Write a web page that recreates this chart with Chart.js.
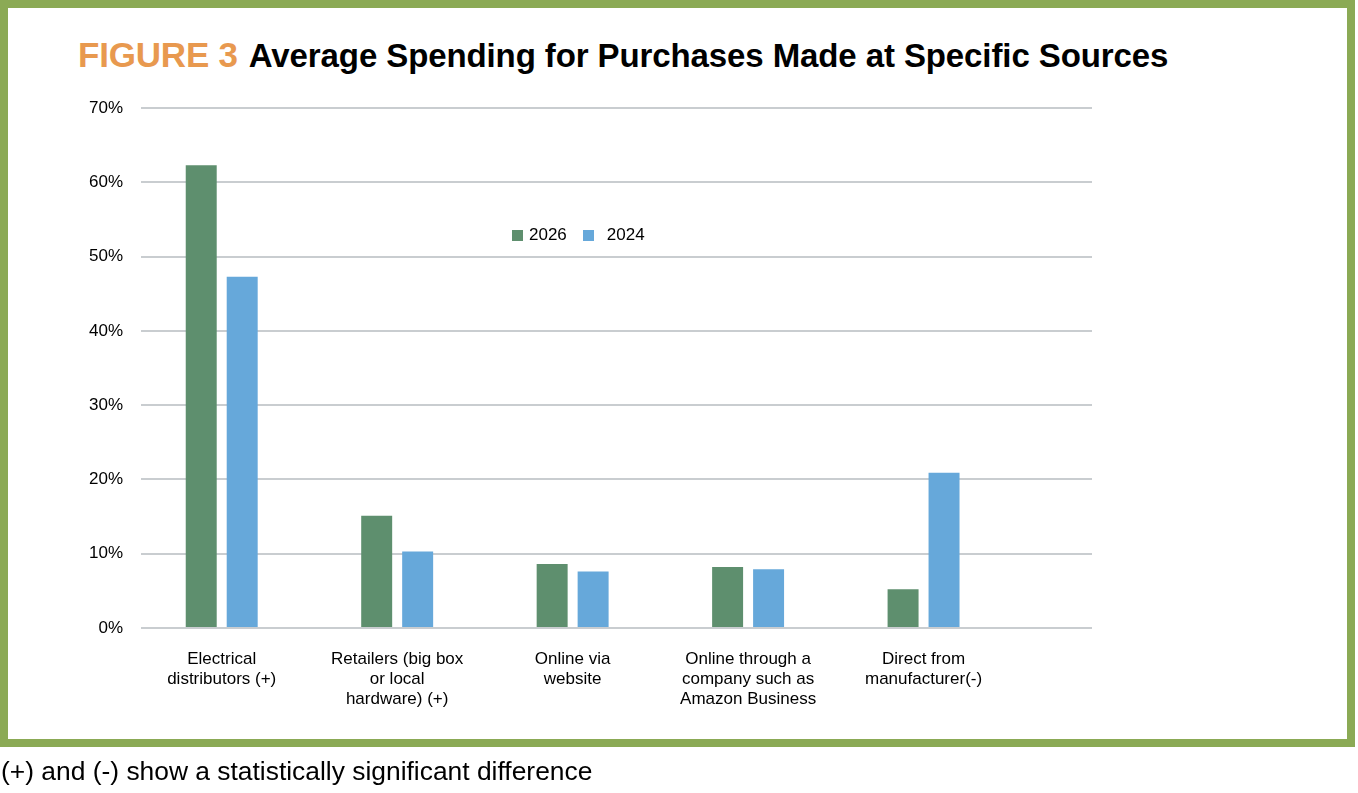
<!DOCTYPE html>
<html>
<head>
<meta charset="utf-8">
<script src="https://cdn.jsdelivr.net/npm/chart.js@4.4.1/dist/chart.umd.min.js"></script>
<style>
  html, body { margin: 0; padding: 0; background: #fff; }
  body { width: 1358px; height: 793px; position: relative; overflow: hidden;
         font-family: "Liberation Sans", Arial, Helvetica, sans-serif; }
  #frame { position: absolute; left: 0; top: 0; width: 1355px; height: 747px;
           box-sizing: border-box; border: 8px solid #8BAA55; background: #fff; }
  #title { position: absolute; left: 78px; top: 35px; line-height: 40px; white-space: nowrap;
           font-weight: bold; color: #000; }
  #title .fig { color: #E8994F; font-size: 35px; letter-spacing: -0.2px; margin-right: 11px; }
  #title .main { font-size: 33px; letter-spacing: -0.1px; }
  #wrap { position: absolute; left: 0; top: 0; width: 1358px; height: 793px; }
  #legend { position: absolute; left: 512px; top: 225px; font-size: 17px; line-height: 20px;
            color: #000; white-space: nowrap; }
  #legend span.box { display: inline-block; width: 11px; height: 11px; vertical-align: -1px; }
  #footer { position: absolute; left: 1px; top: 756px; font-size: 26.4px; line-height: 30px;
            color: #000; white-space: nowrap; }
</style>
</head>
<body>
<div id="frame"></div>
<div id="title"><span class="fig">FIGURE 3</span><span class="main">Average Spending for Purchases Made at Specific Sources</span></div>
<div id="wrap"><canvas id="chart"></canvas></div>
<div id="legend"></div>
<div id="footer">(+) and (-) show a statistically significant difference</div>
<script>
const categories = [
  ['Electrical', 'distributors (+)'],
  ['Retailers (big box', 'or local', 'hardware) (+)'],
  ['Online via', 'website'],
  ['Online through a', 'company such as', 'Amazon Business'],
  ['Direct from', 'manufacturer(-)']
];
const seriesNames = ['2026', '2024'];
const values2026 = [62.3, 15.1, 8.6, 8.2, 5.2];
const values2024 = [47.3, 10.3, 7.6, 7.9, 20.9];
const yTicks = [0, 10, 20, 30, 40, 50, 60, 70];
const colors = ['#5E8F6E', '#66A8DA'];

const font = { family: '"Liberation Sans", Arial, Helvetica, sans-serif', size: 17, lineHeight: 1.18 };

const chart = new Chart(document.getElementById('chart'), {
  type: 'bar',
  data: {
    datasets: [values2026, values2024].map((vals, d) => ({
      label: seriesNames[d],
      data: vals.map((v, i) => ({ x: i, y: v })),
      backgroundColor: colors[d],
      borderWidth: 0,
      categoryPercentage: 0.467,
      barPercentage: 0.756
    }))
  },
  options: {
    responsive: true,
    maintainAspectRatio: false,
    animation: false,
    events: [],
    layout: { padding: { left: 0, top: 108, right: 266, bottom: 0 } },
    plugins: { legend: { display: false }, tooltip: { enabled: false } },
    scales: {
      x: {
        type: 'linear',
        offset: false,
        min: -0.46,
        max: 4.96,
        grid: { display: false },
        border: { display: false },
        afterBuildTicks: (scale) => { scale.ticks = categories.map((c, i) => ({ value: i })); },
        afterFit: (scale) => { scale.height = 165; },
        ticks: {
          autoSkip: false,
          maxRotation: 0,
          padding: 13,
          color: '#000',
          font: font,
          callback: (value) => categories[value]
        }
      },
      y: {
        min: 0,
        max: 70,
        afterBuildTicks: (scale) => { scale.ticks = yTicks.map(v => ({ value: v })); },
        afterFit: (scale) => { scale.width = 141; },
        grid: { color: '#C9CDD0', lineWidth: 2, drawTicks: false },
        border: { display: false },
        ticks: {
          padding: 18,
          color: '#000',
          font: { family: font.family, size: 17 },
          callback: (v) => v + '%'
        }
      }
    }
  }
});

// legend built from the chart's datasets
const legend = document.getElementById('legend');
legend.innerHTML = chart.data.datasets.map((ds, i) =>
  '<span class="box" style="background:' + ds.backgroundColor + ';margin-right:' + (i === 0 ? 6 : 13) + 'px"></span>' +
  '<span style="margin-right:' + (i === 0 ? 16 : 0) + 'px">' + ds.label + '</span>'
).join('');
</script>
</body>
</html>
